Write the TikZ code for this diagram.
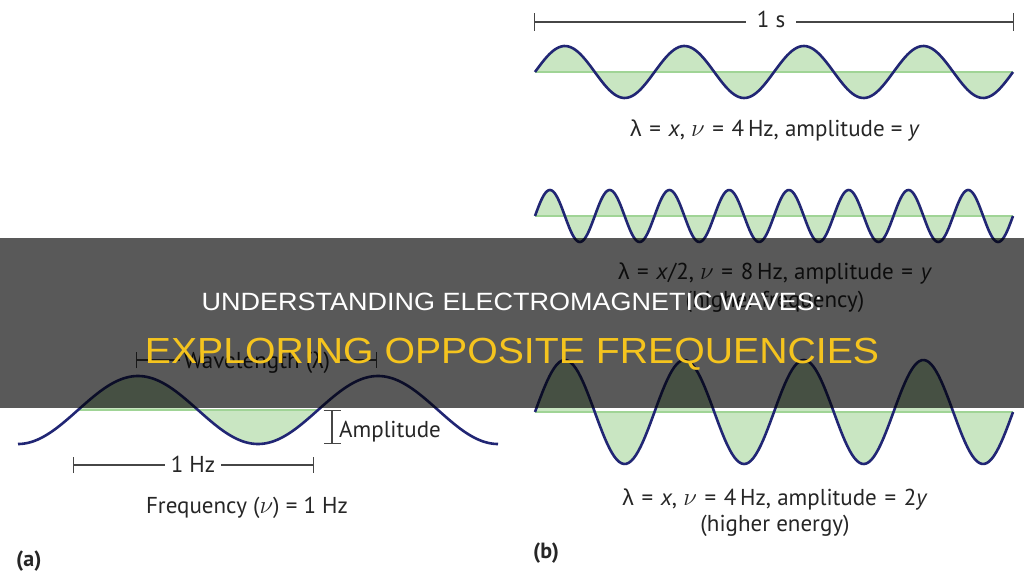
\documentclass[tikz,border=0pt]{standalone}
\usepackage{fontspec}
\setmainfont{PT Sans}
\newfontfamily\greekfont{Liberation Sans}
\newfontfamily\bannerfont[FakeStretch=1.08]{Liberation Sans}
\usepackage{tikz}
\usetikzlibrary{arrows.meta, positioning}
\definecolor{wavenavy}{RGB}{33, 38, 116}
\definecolor{wavegreen}{RGB}{201, 230, 194}
\definecolor{axisgreen}{RGB}{160, 212, 150}
\definecolor{dimgray}{RGB}{70, 70, 70}
\definecolor{labelgray}{RGB}{38, 38, 38}
\definecolor{bannergold}{RGB}{245, 196, 30}
\newcommand{\lam}{{\greekfont λ}}
\newcommand{\eqs}{\,\,=\,\,}

\begin{document}
\begin{tikzpicture}[
    x=1pt, y=-1pt,
    wave/.style={draw=wavenavy, line width=2.6pt, line join=round},
    shade/.style={fill=wavegreen},
    axisline/.style={draw=axisgreen, line width=1.4pt},
    dim/.style={draw=dimgray, line width=1.2pt},
    lbl/.style={font=\fontsize{23}{27}\selectfont, text=labelgray, inner sep=0pt},
    tag/.style={font=\fontsize{22}{26}\selectfont\bfseries, text=labelgray, inner sep=0pt},
    title/.style={font=\bannerfont\fontsize{25}{30}\selectfont, text=white, inner sep=0pt},
    subtitle/.style={font=\bannerfont\fontsize{36.3}{40}\selectfont, text=bannergold, inner sep=0pt}
]
\fill[white] (0,0) rectangle (1024,580);
\useasboundingbox (0,0) rectangle (1024,580);

%% ── (a) ONE WAVE ────────────────────────────────────────────────────────────
\fill[shade] plot[domain=78:318, samples=120] (\x,{410+34*cos(1.5*(\x-18))}) -- cycle;
\draw[axisline] (78,410) -- (318,410);
\draw[wave] plot[domain=18:498, samples=240] (\x,{410+34*cos(1.5*(\x-18))});

\coordinate (wlL) at (136,360);
\coordinate (wlR) at (377,360);
\node[lbl, inner xsep=4pt, anchor=base] (wl) at (257,368) {Wavelength (\lam)};
\draw[dim, {Bar[width=16pt]}-] (wlL) -- (wlL -| wl.west);
\draw[dim, -{Bar[width=16pt]}] (wlR -| wl.east) -- (wlR);

\coordinate (ampT) at (332,410);
\coordinate (ampB) at (332,444);
\draw[dim, {Bar[width=17pt]}-{Bar[width=17pt]}] (ampT) -- (ampB);
\node[lbl, anchor=base west] (amp) at (339,437) {Amplitude};

\coordinate (hzL) at (73,465);
\coordinate (hzR) at (314,465);
\node[lbl, inner xsep=6pt, anchor=base] (hz) at (193,472) {1 Hz};
\draw[dim, {Bar[width=16pt]}-] (hzL) -- (hzL -| hz.west);
\draw[dim, -{Bar[width=16pt]}] (hzR -| hz.east) -- (hzR);

\node[lbl, anchor=base] (freq) at (247,513) {Frequency ($\nu$) = 1 Hz};
\node[tag, anchor=base west] (tagA) at (16,566) {(a)};

%% ── (b) THREE WAVES ─────────────────────────────────────────────────────────
\coordinate (secL) at (534,22);
\coordinate (secR) at (1014,22);
\node[lbl, inner xsep=11pt, anchor=base] (sec) at (771,28) {1 s};
\draw[dim, {Bar[width=18pt]}-] (secL) -- (secL -| sec.west);
\draw[dim, -{Bar[width=18pt]}] (secR -| sec.east) -- (secR);

% lambda = x, 4 Hz
\fill[shade] plot[domain=535:1013, samples=200] (\x,{72-26*sin(3.01255*(\x-535))}) -- cycle;
\draw[axisline] (535,72) -- (1013,72);
\draw[wave] plot[domain=535:1013, samples=200] (\x,{72-26*sin(3.01255*(\x-535))});
\node[lbl, anchor=base] (lblB1) at (775,137)
     {\lam\eqs\textit{x}, $\nu$\eqs 4\,Hz, amplitude = \textit{y}};

% lambda = x/2, 8 Hz
\fill[shade] plot[domain=535:1013, samples=320] (\x,{216-26*sin(6.0251*(\x-535))}) -- cycle;
\draw[axisline] (535,216) -- (1013,216);
\draw[wave] plot[domain=535:1013, samples=320] (\x,{216-26*sin(6.0251*(\x-535))});
\node[lbl, anchor=base] (lblB2) at (775,279)
     {\lam\eqs\textit{x}/2, $\nu$\eqs 8\,Hz, amplitude\eqs\textit{y}};
\node[lbl, anchor=base] (noteB2) at (775,307) {(higher frequency)};

% lambda = x, 4 Hz, 2y
\fill[shade] plot[domain=535:1013, samples=200] (\x,{412-52*sin(3.01255*(\x-535))}) -- cycle;
\draw[axisline] (535,412) -- (1013,412);
\draw[wave] plot[domain=535:1013, samples=200] (\x,{412-52*sin(3.01255*(\x-535))});
\node[lbl, anchor=base] (lblB3) at (775,505)
     {\lam\eqs\textit{x}, $\nu$\eqs 4\,Hz, amplitude\eqs 2\textit{y}};
\node[lbl, anchor=base] (noteB3) at (775,531) {(higher energy)};
\node[tag, anchor=base west] (tagB) at (533,558) {(b)};

%% ── BANNER ──────────────────────────────────────────────────────────────────
\fill[black, fill opacity=0.65] (0,238) rectangle (1024,408);
\node[title, anchor=base] (head) at (512,310) {UNDERSTANDING ELECTROMAGNETIC WAVES:};
\node[subtitle, anchor=base] (subhead) at (512,363) {EXPLORING OPPOSITE FREQUENCIES};

\end{tikzpicture}
\end{document}
